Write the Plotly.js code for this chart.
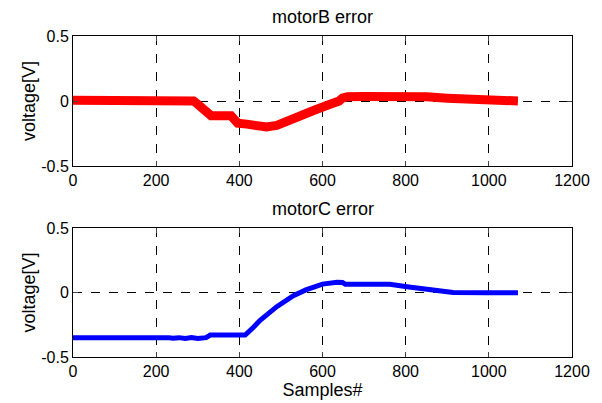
<!DOCTYPE html>
<html><head><meta charset="utf-8">
<script src="https://cdn.plot.ly/plotly-3.0.1.min.js"></script>
<style>html,body{margin:0;padding:0;background:#fff}#chart{width:602px;height:403px}</style>
</head><body><div id="chart"></div>
<script>
var motorB_x = [0, 100, 200, 280, 290, 300, 320, 332, 380, 388, 396, 418, 440, 465, 490, 510, 530, 555, 577, 610, 630, 640, 648, 660, 700, 750, 800, 850, 900, 950, 1000, 1070];
var motorB_y = [0.005, 0.005, 0.003, 0.003, 0.0, -0.025, -0.08, -0.113, -0.113, -0.15, -0.17, -0.178, -0.193, -0.2, -0.188, -0.16, -0.128, -0.1, -0.075, -0.035, -0.018, 0.0, 0.022, 0.033, 0.035, 0.037, 0.042, 0.032, 0.022, 0.012, 0.004, 0.0];
var motorC_x = [0, 110, 120, 135, 145, 230, 240, 255, 270, 285, 300, 320, 330, 414, 434, 450, 490, 530, 560, 600, 635, 648, 655, 700, 762, 803, 858, 914, 1000, 1070];
var motorC_y = [-0.35, -0.35, -0.343, -0.343, -0.35, -0.35, -0.355, -0.35, -0.357, -0.35, -0.357, -0.35, -0.33, -0.33, -0.27, -0.215, -0.11, -0.025, 0.02, 0.065, 0.08, 0.078, 0.063, 0.062, 0.064, 0.045, 0.02, 0.0, -0.003, -0.003];
var yTickVals = [-0.5, 0, 0.5];
var yTickText = ['-0.5', '0', '0.5'];
var xTickVals = [0, 200, 400, 600, 800, 1000, 1200];

var tickFont = {family: 'Liberation Sans, Arial, sans-serif', size: 16, color: '#000'};
var labFont = {family: 'Liberation Sans, Arial, sans-serif', size: 18, color: '#000'};
function xax(anchor, title) {
  var a = {range: [0, 1200], tickvals: xTickVals, ticks: 'inside', ticklen: 5, showline: true, mirror: 'ticks',
    linecolor: '#000', linewidth: 1, showgrid: true, gridcolor: '#000', griddash: 'dash', gridwidth: 1,
    zeroline: false, tickfont: tickFont, anchor: anchor, fixedrange: true};
  if (title) { a.title = {text: title, font: labFont, standoff: 0}; }
  return a;
}
function yax(domain, anchor) {
  return {range: [-0.5, 0.5], domain: domain, tickvals: yTickVals, ticktext: yTickText, ticks: 'inside', ticklen: 5,
    showline: true, mirror: 'ticks', linecolor: '#000', linewidth: 1, showgrid: true, gridcolor: '#000',
    griddash: 'dash', gridwidth: 1, zeroline: false, tickfont: tickFont, anchor: anchor,
    title: {text: 'voltage[V]', font: labFont, standoff: 0}, fixedrange: true};
}
var data = [
  {x: motorB_x, y: motorB_y, type: 'scatter', mode: 'lines', line: {color: '#ff0000', width: 9}, xaxis: 'x', yaxis: 'y'},
  {x: motorC_x, y: motorC_y, type: 'scatter', mode: 'lines', line: {color: '#0000ff', width: 5}, xaxis: 'x2', yaxis: 'y2'}
];
var layout = {
  width: 602, height: 403, margin: {l: 73, r: 30, t: 36, b: 46},
  paper_bgcolor: '#fff', plot_bgcolor: '#fff', showlegend: false, font: labFont,
  xaxis: xax('y'), yaxis: yax([0.595, 1], 'x'),
  xaxis2: xax('y2', 'Samples#'), yaxis2: yax([0, 0.402], 'x2'),
  annotations: [
    {text: 'motorB error', xref: 'paper', yref: 'paper', x: 0.5, y: 1, yshift: 7, yanchor: 'bottom', showarrow: false, font: labFont},
    {text: 'motorC error', xref: 'paper', yref: 'paper', x: 0.5, y: 0.402, yshift: 7, yanchor: 'bottom', showarrow: false, font: labFont}
  ]
};
Plotly.newPlot('chart', data, layout, {staticPlot: true, displayModeBar: false});
</script></body></html>
